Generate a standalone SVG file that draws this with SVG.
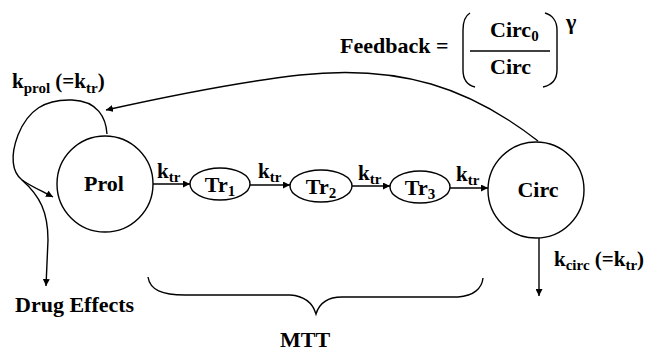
<svg xmlns="http://www.w3.org/2000/svg" width="646" height="353" viewBox="0 0 646 353" font-family="'Liberation Serif', Tinos, 'Times New Roman', 'DejaVu Serif', serif" font-weight="bold">
  <style>
    .ln { fill: none; stroke: #000; stroke-width: 1.4; }
    .nd { fill: #fff; stroke: #000; stroke-width: 1.4; }
    .big { font-size: 22px; }
    .k { font-size: 21px; }
    .sub { font-size: 15px; }
  </style>
  <defs>
    <marker id="arr" viewBox="0 0 10 10" refX="10" refY="5" markerWidth="7" markerHeight="7" markerUnits="userSpaceOnUse" orient="auto">
      <path d="M0,0 L10,5 L0,10 Z" fill="#000"/>
    </marker>
  </defs>

  <!-- connectors -->
  <g id="connectors">
    <!-- self-renewal loop on Prol -->
    <path class="ln" d="M107,134 C106,118 98,101 72,100 C45,99 28,110 18,135 C10,156 12,172 22,180 C32,187 42,191 53,197" marker-end="url(#arr)"/>
    <!-- drug effects branch -->
    <path class="ln" d="M22,180 C40,196 48,212 48,240 L46,286" marker-end="url(#arr)"/>
    <!-- transit chain -->
    <line class="ln" x1="153" y1="184" x2="190" y2="184" marker-end="url(#arr)"/>
    <line class="ln" x1="250" y1="185" x2="290" y2="185" marker-end="url(#arr)"/>
    <line class="ln" x1="352" y1="186" x2="390" y2="186" marker-end="url(#arr)"/>
    <line class="ln" x1="450" y1="188" x2="488" y2="188" marker-end="url(#arr)"/>
    <!-- elimination from Circ -->
    <line class="ln" x1="539" y1="238" x2="539" y2="296" marker-end="url(#arr)"/>
    <!-- feedback from Circ to proliferation -->
    <path class="ln" d="M538,141 C470,88 400,64 300,75 C230,83 160,98 106,110" marker-end="url(#arr)"/>
    <!-- MTT brace -->
    <path class="ln" d="M148,277 C150,290 162,295 185,295 L290,295 C305,296 313,304 316,314 C319,304 327,297 342,297 L458,297 C474,296 482,288 483,278"/>
  </g>

  <!-- rate labels -->
  <g id="labels">
    <text x="12" y="88"><tspan class="k">k</tspan><tspan class="sub" dy="5">prol</tspan><tspan class="k" dy="-5"> (=k</tspan><tspan class="sub" dy="5">tr</tspan><tspan class="k" dy="-5">)</tspan></text>
    <text x="157" y="178"><tspan class="k">k</tspan><tspan class="sub" dy="4">tr</tspan></text>
    <text x="258" y="178"><tspan class="k">k</tspan><tspan class="sub" dy="4">tr</tspan></text>
    <text x="358" y="180"><tspan class="k">k</tspan><tspan class="sub" dy="4">tr</tspan></text>
    <text x="456" y="181"><tspan class="k">k</tspan><tspan class="sub" dy="4">tr</tspan></text>
    <text x="554" y="266"><tspan class="k">k</tspan><tspan class="sub" dy="4">circ</tspan><tspan class="k" dy="-4"> (=k</tspan><tspan class="sub" dy="4">tr</tspan><tspan class="k" dy="-4">)</tspan></text>
    <text class="big" x="15" y="312">Drug Effects</text>
    <text class="big" x="305" y="347" text-anchor="middle">MTT</text>
  </g>

  <!-- feedback expression -->
  <g id="feedback">
    <text class="big" x="340" y="53">Feedback =</text>
    <path class="ln" d="M470,13 C465,16 463,22 463,30 L463,70 C463,79 467,85 475,87"/>
    <path class="ln" d="M545,13 C552,15 557,21 557,30 L557,70 C557,79 552,85 543,87"/>
    <line class="ln" x1="470" y1="51" x2="550" y2="51"/>
    <text x="490" y="37"><tspan class="big">Circ</tspan><tspan class="sub" dy="4">0</tspan></text>
    <text class="big" x="490" y="74">Circ</text>
    <text class="big" x="566" y="29">γ</text>
  </g>

  <!-- compartments -->
  <g id="prol">
    <circle class="nd" cx="105" cy="184" r="48"/>
    <text class="big" x="104" y="191" text-anchor="middle">Prol</text>
  </g>
  <g id="tr1">
    <ellipse class="nd" cx="220" cy="184" rx="30" ry="16"/>
    <text x="220" y="192" text-anchor="middle"><tspan class="big">Tr</tspan><tspan class="sub" dy="4">1</tspan></text>
  </g>
  <g id="tr2">
    <ellipse class="nd" cx="321" cy="186" rx="31" ry="16"/>
    <text x="321" y="194" text-anchor="middle"><tspan class="big">Tr</tspan><tspan class="sub" dy="4">2</tspan></text>
  </g>
  <g id="tr3">
    <ellipse class="nd" cx="420" cy="187" rx="30" ry="16"/>
    <text x="420" y="195" text-anchor="middle"><tspan class="big">Tr</tspan><tspan class="sub" dy="4">3</tspan></text>
  </g>
  <g id="circ">
    <circle class="nd" cx="536" cy="190" r="48"/>
    <text class="big" x="538" y="197" text-anchor="middle">Circ</text>
  </g>
</svg>
